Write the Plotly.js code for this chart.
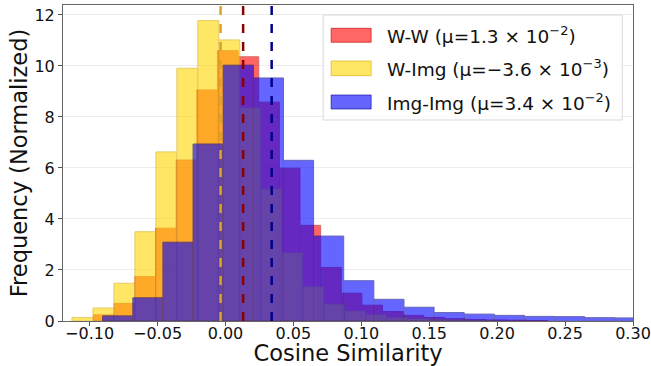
<!DOCTYPE html>
<html>
<head>
<meta charset="utf-8">
<script src="https://cdn.plot.ly/plotly-3.0.1.min.js"></script>
<style>html,body{margin:0;padding:0;background:#fff;}#chart{width:651px;height:366px;}</style>
</head>
<body>
<div id="chart"></div>
<script>
// ---- data ----
const seriesNames = ["W-W (μ=1.3 × 10<sup>−2</sup>)", "W-Img (μ=−3.6 × 10<sup>−3</sup>)", "Img-Img (μ=3.4 × 10<sup>−2</sup>)"];
const seriesMeans = [0.013, -0.0036, 0.034];

const wwBinStart = -0.09705;
const wwBinWidth = 0.01519;
const wwHeights = [0.24, 0.69, 1.74, 3.64, 6.31, 9.06, 10.6, 10.36, 8.58, 5.99, 3.75, 2.1, 1.09, 0.62, 0.37, 0.22, 0.14, 0.09, 0.06, 0.04, 0.03, 0.02];

const wimgBinStart = -0.11297;
const wimgBinWidth = 0.01544;
const wimgHeights = [0.14, 0.51, 1.48, 3.50, 6.63, 9.91, 11.78, 11.02, 8.36, 5.18, 2.68, 1.35, 0.67, 0.40, 0.26, 0.15, 0.10, 0.06, 0.04, 0.02];

const imgBinStart = -0.0904;
const imgBinWidth = 0.02218;
const imgHeights = [0.2, 0.91, 3.09, 6.94, 10.03, 9.53, 6.30, 3.33, 1.58, 0.85, 0.54, 0.33, 0.27, 0.22, 0.18, 0.17, 0.13, 0.12];

const xTickVals = [-0.10, -0.05, 0.00, 0.05, 0.10, 0.15, 0.20, 0.25, 0.30];
const yTickVals = [0, 2, 4, 6, 8, 10, 12];

// ---- styles ----
const fills = ["#ff0000", "#ffd700", "#0000ff"];
const edges = ["#c00000", "#d4a900", "#00008b"];
const meanColors = ["#8b0000", "#daa520", "#00008b"];
const swatchFills = ["rgba(255,0,0,0.6)", "rgba(255,215,0,0.6)", "rgba(0,0,255,0.6)"];
const swatchEdges = ["rgba(192,0,0,0.6)", "rgba(212,169,0,0.6)", "rgba(0,0,139,0.6)"];

function hist(start, width, heights, i) {
  return {
    type: "bar",
    x: heights.map((_, k) => start + k * width),
    y: heights,
    width: heights.map(() => width),
    offset: 0,
    name: seriesNames[i],
    opacity: 0.6,
    marker: {color: fills[i], line: {color: edges[i], width: 1}},
    hoverinfo: "skip"
  };
}

const traces = [
  hist(wwBinStart, wwBinWidth, wwHeights, 0),
  hist(wimgBinStart, wimgBinWidth, wimgHeights, 1),
  hist(imgBinStart, imgBinWidth, imgHeights, 2)
];

const shapes = seriesMeans.map((m, i) => ({
  type: "line", xref: "x", yref: "paper", x0: m, x1: m, y0: 0, y1: 1,
  line: {color: meanColors[i], width: 2.5, dash: "dash"}, layer: "above"
}));

const font = "DejaVu Sans, Liberation Sans, sans-serif";

// legend (box, swatches, labels) in paper coordinates
const legX0 = 0.4564, legX1 = 0.9812, legY0 = 0.6361, legY1 = 0.9684;
shapes.push({
  type: "rect", xref: "paper", yref: "paper", x0: legX0, x1: legX1, y0: legY0, y1: legY1,
  fillcolor: "rgba(255,255,255,0.85)", line: {color: "#d9d9d9", width: 1}, layer: "above"
});
const swY = [[0.8820, 0.9263], [0.7763, 0.8228], [0.6709, 0.7152]];
const annotations = [];
seriesNames.forEach((nm, i) => {
  shapes.push({
    type: "rect", xref: "paper", yref: "paper", x0: 0.4704, x1: 0.5406,
    y0: swY[i][0], y1: swY[i][1],
    fillcolor: swatchFills[i], line: {color: swatchEdges[i], width: 1}, layer: "above"
  });
  annotations.push({
    xref: "paper", yref: "paper", x: 0.5655, y: (swY[i][0] + swY[i][1]) / 2,
    xanchor: "left", yanchor: "middle", showarrow: false, text: nm,
    font: {size: 18.5, family: font, color: "#111"}
  });
});

const layout = {
  width: 651, height: 366,
  margin: {l: 63, r: 18, t: 5, b: 45},
  paper_bgcolor: "#fff", plot_bgcolor: "#fff",
  barmode: "overlay",
  bargap: 0,
  font: {family: font, color: "#111", size: 16},
  xaxis: {
    range: [-0.1196, 0.30],
    tickvals: xTickVals, tickformat: ".2f",
    ticks: "outside", ticklen: 4, tickcolor: "#555",
    ticklabelstandoff: -6,
    showgrid: false, zeroline: false,
    showline: true, mirror: true, linecolor: "#666", linewidth: 1,
    tickfont: {size: 16, family: font},
    automargin: false,
    title: {text: "Cosine Similarity", font: {size: 22.5, family: font}, standoff: 3}
  },
  yaxis: {
    range: [0, 12.39],
    tickvals: yTickVals,
    ticks: "outside", ticklen: 4, tickcolor: "#555",
    showgrid: true, gridcolor: "#ececec", gridwidth: 1,
    zeroline: false,
    showline: true, mirror: true, linecolor: "#666", linewidth: 1,
    tickfont: {size: 16, family: font},
    automargin: false,
    title: {text: "Frequency (Normalized)", font: {size: 22.5, family: font}, standoff: 0}
  },
  shapes: shapes,
  annotations: annotations,
  showlegend: false
};

Plotly.newPlot("chart", traces, layout, {displayModeBar: false, staticPlot: true});
</script>
</body>
</html>
